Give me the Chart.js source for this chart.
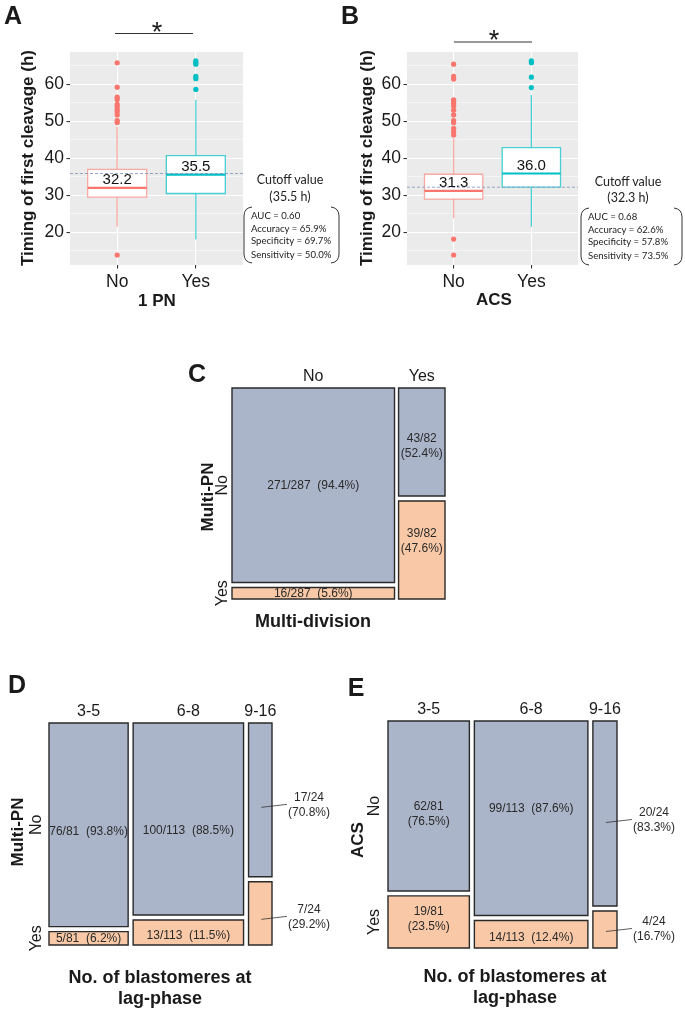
<!DOCTYPE html>
<html><head><meta charset="utf-8">
<script src="https://cdn.jsdelivr.net/npm/chart.js"></script>
<style>
html,body{margin:0;padding:0;background:#fff;}
#page{position:relative;width:685px;height:1010px;overflow:hidden;font-family:'Liberation Sans',Arial,sans-serif;color:#1a1a1a;background:#fff;}
canvas{position:absolute;}
.t{position:absolute;white-space:nowrap;line-height:1;transform:translate(-50%,-50%);}
.r{transform:translate(-50%,-50%) rotate(-90deg);}
.l{transform:translate(0,-50%);}
svg{position:absolute;left:0;top:0;}
</style></head>
<body><div id="page">
<canvas id="cA" width="340" height="310" style="left:0;top:0"></canvas>
<canvas id="cB" width="345" height="310" style="left:340px;top:0"></canvas>
<canvas id="cC" width="260" height="255" style="left:200px;top:355px"></canvas>
<canvas id="cD" width="340" height="260" style="left:0;top:695px"></canvas>
<canvas id="cE" width="345" height="260" style="left:340px;top:695px"></canvas>
<svg width="685" height="1010" viewBox="0 0 685 1010">
  <g fill="none" stroke="#333" stroke-width="1">
    <line x1="115" y1="33.5" x2="193" y2="33.5"/>
    <line x1="454" y1="42" x2="532" y2="42"/>
    <path d="M252 207 Q244 208 244 216 L244 254 Q244 262 252 263"/>
    <path d="M331 207 Q339 208 339 216 L339 254 Q339 262 331 263"/>
    <path d="M589 208 Q581 209 581 217 L581 256 Q581 264 589 265"/>
    <path d="M674 208 Q682 209 682 217 L682 256 Q682 264 674 265"/>
  </g>
</svg>
</div>
<script>
// ---------- DATA ----------
const boxCats = ['No', 'Yes'];
const yTickValues = [15, 20, 25, 30, 35, 40, 45, 50, 55, 60, 65];

// Panel A: 1 PN
const pnQ1 = [29.5, 30.5];
const pnMedian = [32.0, 35.6];
const pnQ3 = [37.0, 40.7];
const pnWhiskerLow = [21.5, 18.1];
const pnWhiskerHigh = [48.5, 55.8];
const pnOutliersNo = [65.8, 59.2, 56.5, 55.9, 54.6, 54.0, 53.2, 52.6, 51.7, 50.2, 49.7, 13.9];
const pnOutliersYes = [66.3, 65.8, 65.4, 62.1, 61.5, 58.6];
const pnMedianLabels = ['32.2', '35.5'];
const pnCutoff = 35.9;
const pnStats = ['AUC = 0.60', 'Accuracy = 65.9%', 'Specificity = 69.7%', 'Sensitivity = 50.0%'];

// Panel B: ACS
const acsQ1 = [29.0, 32.2];
const acsMedian = [31.2, 35.9];
const acsQ3 = [35.7, 42.9];
const acsWhiskerLow = [23.8, 21.5];
const acsWhiskerHigh = [45.4, 57.1];
const acsOutliersNo = [65.4, 62.1, 61.4, 55.8, 55.3, 54.7, 54.1, 53.0, 51.7, 50.2, 49.6, 48.1, 47.2, 46.3, 18.2, 13.9];
const acsOutliersYes = [66.3, 65.8, 61.9, 59.1];
const acsMedianLabels = ['31.3', '36.0'];
const acsCutoff = 32.2;
const acsStats = ['AUC = 0.68', 'Accuracy = 62.6%', 'Specificity = 57.8%', 'Sensitivity = 73.5%'];

// Panel C: Multi-division x Multi-PN
const mdivCats = ['No', 'Yes'];
const mdivMultiPNNo = [271, 43];
const mdivMultiPNYes = [16, 39];

// Panels D/E: No. of blastomeres at lag-phase
const lagCats = ['3-5', '6-8', '9-16'];
const lagMultiPNNo = [76, 100, 17];
const lagMultiPNYes = [5, 13, 7];
const lagACSNo = [62, 99, 20];
const lagACSYes = [19, 14, 4];
const rowCats = ['No', 'Yes'];

// ---------- STYLE ----------
Chart.defaults.font.family = "'Liberation Sans', Arial, sans-serif";
Chart.defaults.color = '#222';
const HUE = ['#F8766D', '#00BFC4'];
const HUE_A = ['rgba(248,118,109,0.6)', 'rgba(0,191,196,0.7)'];
const BLUE = '#ABB5C9';
const PEACH = '#F9C9A7';

const page = document.getElementById('page');
function T(x, y, txt, css, cls) {
  const d = document.createElement('div');
  d.className = 't' + (cls ? ' ' + cls : '');
  d.textContent = txt;
  d.style.left = x + 'px';
  d.style.top = y + 'px';
  if (css) d.style.cssText += css;
  page.appendChild(d);
}

const bgPlugin = {
  id: 'ggbg',
  beforeDraw(chart) {
    const a = chart.chartArea, ctx = chart.ctx;
    ctx.save(); ctx.fillStyle = '#EBEBEB';
    ctx.fillRect(a.left, a.top, a.right - a.left, a.bottom - a.top);
    ctx.restore();
  }
};

function boxChart(id, q1, med, q3, lo, hi, outs, cut, labels, yAxisW, padRight) {
  const ds = [];
  const hw = 0.375;
  [0, 1].forEach(i => {
    const c = i + 1;
    ds.push({data: [{x: c - hw, y: q1[i]}, {x: c + hw, y: q1[i]}, {x: c + hw, y: q3[i]}, {x: c - hw, y: q3[i]}, {x: c - hw, y: q1[i]}],
      borderColor: HUE_A[i], backgroundColor: '#fff', fill: 'shape', borderWidth: 1.3, order: 5, borderCapStyle: 'square'});
    ds.push({data: [{x: c, y: lo[i]}, {x: c, y: q1[i]}], borderColor: HUE_A[i], borderWidth: 1.3, fill: false, order: 6});
    ds.push({data: [{x: c, y: q3[i]}, {x: c, y: hi[i]}], borderColor: HUE_A[i], borderWidth: 1.3, fill: false, order: 6});
    ds.push({data: [{x: c - hw, y: med[i]}, {x: c + hw, y: med[i]}], borderColor: HUE[i], borderWidth: 2.2, fill: false, order: 4});
    ds.push({data: outs[i].map(v => ({x: c, y: v})), showLine: false, pointRadius: 2.6, pointBackgroundColor: HUE[i], pointBorderWidth: 0, order: 3});
  });
  ds.push({data: [{x: 0.4, y: cut}, {x: 2.6, y: cut}], borderColor: '#8A9CC0', borderWidth: 0.9, borderDash: [3, 2], fill: false, order: 1});

  const labelPlugin = {
    id: 'medlab',
    afterDatasetsDraw(chart) {
      const {ctx, scales: {x, y}} = chart;
      ctx.save();
      ctx.font = "15px 'Liberation Sans', Arial, sans-serif";
      ctx.fillStyle = '#111'; ctx.textAlign = 'center'; ctx.textBaseline = 'middle';
      labels.forEach((t, i) => ctx.fillText(t, x.getPixelForValue(i + 1), y.getPixelForValue(med[i]) - 8));
      ctx.restore();
    }
  };

  new Chart(document.getElementById(id), {
    type: 'line',
    data: {datasets: ds},
    options: {
      responsive: false, animation: false, devicePixelRatio: 1,
      layout: {padding: {left: 0, right: padRight, top: 52, bottom: 0}},
      plugins: {legend: {display: false}, tooltip: {enabled: false}},
      elements: {point: {radius: 0}, line: {tension: 0}},
      scales: {
        x: {type: 'linear', min: 0.4, max: 2.6,
          afterBuildTicks: s => { s.ticks = boxCats.map((c, i) => ({value: i + 1})); },
          afterFit: s => { s.height = 45; },
          ticks: {callback: v => boxCats[v - 1], font: {size: 17.5}, color: '#1a1a1a', padding: 3, maxRotation: 0, autoSkip: false},
          grid: {color: '#fff', lineWidth: 1.1, tickColor: '#333', tickLength: 3.5},
          border: {display: false}},
        y: {type: 'linear', min: 11.2, max: 68.7,
          afterBuildTicks: s => { s.ticks = yTickValues.map(v => ({value: v})); },
          afterFit: s => { s.width = yAxisW; },
          ticks: {callback: v => (v % 10 === 0 ? String(v) : ''), font: {size: 17.5}, color: '#1a1a1a', padding: 2.5, autoSkip: false},
          grid: {color: '#fff',
            lineWidth: c => (c.tick && c.tick.value % 10 === 0 ? 1.1 : 0.5),
            tickColor: c => (c.tick && c.tick.value % 10 === 0 ? '#333' : 'rgba(0,0,0,0)'),
            tickLength: 3.5},
          border: {display: false}}
      }
    },
    plugins: [bgPlugin, labelPlugin]
  });
}

function mosaicLayout(noC, yesC, gx, gy) {
  const tot = noC.map((n, i) => n + yesC[i]);
  const N = tot.reduce((a, b) => a + b, 0);
  const ux = 1 - gx * (tot.length - 1), uy = 1 - gy;
  let x = 0; const cells = [], centers = [];
  tot.forEach((t, i) => {
    const w = t / N * ux, hNo = noC[i] / t * uy;
    cells.push({x0: x, x1: x + w, y0: 1 - hNo, y1: 1, n: noC[i], t, fill: BLUE, row: 0, col: i});
    cells.push({x0: x, x1: x + w, y0: 0, y1: 1 - hNo - gy, n: yesC[i], t, fill: PEACH, row: 1, col: i});
    centers.push(x + w / 2);
    x += w + gx;
  });
  return {cells, centers};
}

function mosaicChart(id, cats, noC, yesC, gx, gy, pad, axisH, modes, dys, rowOff) {
  const m = mosaicLayout(noC, yesC, gx, gy);
  const ds = m.cells.map(c => ({
    data: [{x: c.x0, y: c.y0}, {x: c.x1, y: c.y0}, {x: c.x1, y: c.y1}, {x: c.x0, y: c.y1}, {x: c.x0, y: c.y0}],
    borderColor: '#2a2a2a', borderWidth: 1.4, backgroundColor: c.fill, fill: 'shape',
    borderCapStyle: 'square', borderJoinStyle: 'miter', clip: false
  }));
  const labPlugin = {
    id: 'mlab',
    afterDatasetsDraw(chart) {
      const {ctx, scales: {x, y}} = chart;
      ctx.save();
      ctx.fillStyle = '#2a2a2a'; ctx.strokeStyle = '#333'; ctx.lineWidth = 0.8;
      ctx.textAlign = 'center'; ctx.textBaseline = 'middle';
      ctx.font = "12px 'Liberation Sans', Arial, sans-serif";
      m.cells.forEach((c, k) => {
        const px0 = x.getPixelForValue(c.x0), px1 = x.getPixelForValue(c.x1);
        const cx = (px0 + px1) / 2;
        const cy = (y.getPixelForValue(c.y0) + y.getPixelForValue(c.y1)) / 2 + dys[k];
        const a = c.n + '/' + c.t, b = '(' + (c.n / c.t * 100).toFixed(1) + '%)';
        if (modes[k] === 'one') {
          ctx.fillText(a + '  ' + b, cx, cy);
        } else if (modes[k] === 'two') {
          ctx.fillText(a, cx, cy - 7.5); ctx.fillText(b, cx, cy + 7.5);
        } else {
          const tx = px1 + 37;
          ctx.fillText(a, tx, cy - 7.5); ctx.fillText(b, tx, cy + 7.5);
          ctx.beginPath(); ctx.moveTo(cx + 1, cy + 2); ctx.lineTo(px1 + 15, cy - 1); ctx.stroke();
        }
      });
      // row labels (rotated) at first column
      ctx.font = "16px 'Liberation Sans', Arial, sans-serif";
      ctx.fillStyle = '#1a1a1a';
      m.cells.filter(c => c.col === 0).forEach(c => {
        const cy = (y.getPixelForValue(c.y0) + y.getPixelForValue(c.y1)) / 2;
        ctx.save();
        ctx.translate(chart.chartArea.left - rowOff, cy);
        ctx.rotate(-Math.PI / 2);
        ctx.fillText(rowCats[c.row], 0, 0);
        ctx.restore();
      });
      ctx.restore();
    }
  };
  new Chart(document.getElementById(id), {
    type: 'line',
    data: {datasets: ds},
    options: {
      responsive: false, animation: false, devicePixelRatio: 1,
      layout: {padding: pad},
      plugins: {legend: {display: false}, tooltip: {enabled: false}},
      elements: {point: {radius: 0}, line: {tension: 0}},
      scales: {
        x: {type: 'linear', min: 0, max: 1, position: 'top',
          afterBuildTicks: s => { s.ticks = m.centers.map(v => ({value: v})); },
          afterFit: s => { s.height = axisH; },
          ticks: {callback: (v, i) => cats[i], font: {size: 16}, color: '#1a1a1a', padding: 2, maxRotation: 0, minRotation: 0, autoSkip: false},
          grid: {display: false, drawTicks: false},
          border: {display: false}},
        y: {type: 'linear', min: 0, max: 1, display: false}
      }
    },
    plugins: [labPlugin]
  });
}

// ---------- CHARTS ----------
boxChart('cA', pnQ1, pnMedian, pnQ3, pnWhiskerLow, pnWhiskerHigh, [pnOutliersNo, pnOutliersYes], pnCutoff, pnMedianLabels, 70, 97);
boxChart('cB', acsQ1, acsMedian, acsQ3, acsWhiskerLow, acsWhiskerHigh, [acsOutliersNo, acsOutliersYes], acsCutoff, acsMedianLabels, 67, 107);

mosaicChart('cC', mdivCats, mdivMultiPNNo, mdivMultiPNYes, 0.019, 0.024,
  {left: 32, right: 15, top: 0, bottom: 11}, 33, ['one', 'one', 'two', 'two'], [0, 0, 4.5, -8.5], 9);
mosaicChart('cD', lagCats, lagMultiPNNo, lagMultiPNYes, 0.0224, 0.0225,
  {left: 49, right: 68, top: 0, bottom: 10}, 28, ['one', 'one', 'one', 'one', 'out', 'out'], [7, 0, 12, 3.5, 5.5, 4], 12);
mosaicChart('cE', lagCats, lagACSNo, lagACSYes, 0.0218, 0.022,
  {left: 48, right: 68, top: 0, bottom: 7}, 26, ['two', 'two', 'one', 'one', 'out', 'out'], [8.5, -3, -10, 3, 7, 0], 13);

// ---------- ANNOTATIONS ----------
const B24 = 'font-weight:bold;font-size:25px;font-family:Arial,"Liberation Sans",sans-serif;';
T(13, 15, 'A', B24); T(350, 15, 'B', B24); T(197, 373, 'C', B24); T(17, 684, 'D', B24); T(356, 687, 'E', B24);
T(157, 32, '*', 'font-size:27px;'); T(494, 40, '*', 'font-size:27px;');
const TIT = 'font-weight:bold;font-size:17px;';
T(27, 158, 'Timing of first cleavage (h)', TIT, 'r');
T(366, 158, 'Timing of first cleavage (h)', TIT, 'r');
T(157, 300, '1 PN', TIT); T(494, 299, 'ACS', TIT);
const LAT = 'font-family:Lato,"Open Sans",sans-serif;color:#222;';
T(290, 180, 'Cutoff value', LAT + 'font-size:12.5px;');
T(290, 197, '(35.5 h)', LAT + 'font-size:12.5px;');
T(628, 182, 'Cutoff value', LAT + 'font-size:12.5px;');
T(628, 198, '(32.3 h)', LAT + 'font-size:12.5px;');
const statY = [0, 12.8, 25.4, 38.6];
pnStats.forEach((s, i) => T(251, 216 + statY[i], s, LAT + 'font-size:9.6px;', 'l'));
acsStats.forEach((s, i) => T(588, 217 + statY[i], s, LAT + 'font-size:9.6px;', 'l'));
T(207, 497, 'Multi-PN', TIT, 'r');
T(313, 621, 'Multi-division', 'font-weight:bold;font-size:18px;');
T(17, 832, 'Multi-PN', TIT, 'r');
T(357, 840, 'ACS', TIT, 'r');
const BT = 'font-weight:bold;font-size:18px;';
T(160, 977, 'No. of blastomeres at', BT); T(160, 998, 'lag-phase', BT);
T(515, 976, 'No. of blastomeres at', BT); T(515, 997, 'lag-phase', BT);
</script>
</body></html>
